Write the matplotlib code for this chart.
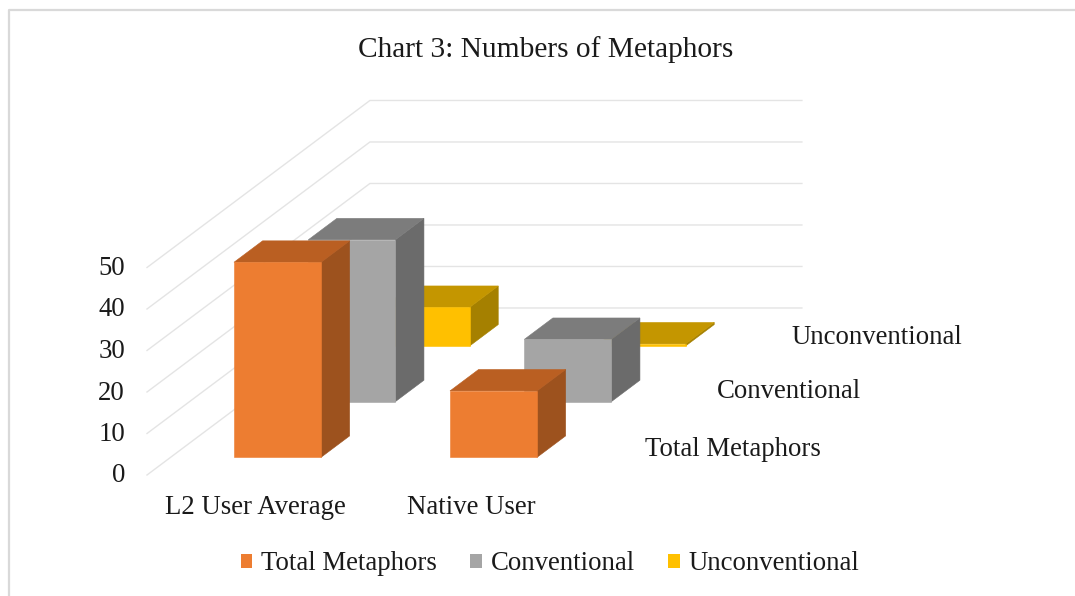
import matplotlib
matplotlib.use("Agg")
import matplotlib.pyplot as plt
from matplotlib.patches import Polygon, Patch

plt.rcParams["font.family"] = ["Liberation Serif", "DejaVu Serif"]

# data
categories = ["L2 User Average", "Native User"]
series_names = ["Total Metaphors", "Conventional", "Unconventional"]
total_metaphors = [47, 16]
conventional = [39, 15]
unconventional = [9.3, 0.5]
series_values = [total_metaphors, conventional, unconventional]
value_ticks = [0, 10, 20, 30, 40, 50]

# colours per series: front, top, side
front_colors = ["#ED7D31", "#A5A5A5", "#FFC000"]
top_colors = ["#BA5F22", "#7C7C7C", "#C49600"]
side_colors = ["#9D521E", "#6B6B6B", "#A58000"]

TEXT_SIZE = 19.3


# oblique 3d -> pixel position, c = category axis, d = depth axis, v = value
def project(c, d, v):
    x = 147 + 216 * c + 74.3 * d
    y = 475 - 55.67 * d - 4.15 * v
    return x, y


def draw_bar(ax, c, d, value, i):
    w = 0.403 / 2
    t = 0.385 / 2
    c0, c1 = c - w, c + w
    d0, d1 = d - t, d + t
    front = [project(c0, d0, 0), project(c1, d0, 0), project(c1, d0, value), project(c0, d0, value)]
    side = [project(c1, d0, 0), project(c1, d1, 0), project(c1, d1, value), project(c1, d0, value)]
    top = [project(c0, d0, value), project(c1, d0, value), project(c1, d1, value), project(c0, d1, value)]
    for pts, col in [(side, side_colors[i]), (top, top_colors[i]), (front, front_colors[i])]:
        ax.add_patch(Polygon(pts, closed=True, facecolor=col, edgecolor=col, linewidth=0.4, zorder=3))


fig = plt.figure(figsize=(10.75, 5.96), dpi=100)
ax = fig.add_axes([0, 0, 1, 1])
ax.set_xlim(0, 1075)
ax.set_ylim(596, 0)
ax.axis("off")

# chart border, only top and left show up
ax.plot([9, 9, 1075], [596, 10, 10], color="#D9D9D9", linewidth=1.6, zorder=1)

# gridlines on side wall and back wall
for v in value_ticks:
    a = project(0, 0, v)
    b = project(0, 3, v)
    e = project(2, 3, v)
    ax.plot([a[0], b[0], e[0]], [a[1], b[1], e[1]], color="#E4E4E4", linewidth=1.0, zorder=2)

# back to front so the nearer bars cover the others
for i in range(len(series_names) - 1, -1, -1):
    for j in range(len(categories)):
        draw_bar(ax, j + 0.495, i + 0.51, series_values[i][j], i)

for v in value_ticks:
    x, y = project(0, 0, v)
    ax.text(x - 22, y + 1, str(v), ha="right", va="center", fontsize=TEXT_SIZE, color="#1A1A1A")

for j, name in enumerate(categories):
    ax.text(255 + 216 * j, 507, name, ha="center", va="center", fontsize=TEXT_SIZE, color="#1A1A1A")

series_label_x = [733, 789, 877]
series_label_y = [449, 392, 337]
for i, name in enumerate(series_names):
    ax.text(series_label_x[i], series_label_y[i], name, ha="center", va="center",
            fontsize=TEXT_SIZE, color="#1A1A1A")

ax.text(546, 50, "Chart 3: Numbers of Metaphors", ha="center", va="center",
        fontsize=21.2, color="#1A1A1A")

handles = [Patch(facecolor=col, edgecolor="none") for col in front_colors]
fig.legend(handles, series_names, loc="center", bbox_to_anchor=(550 / 1075, 1 - 564 / 596),
           ncol=3, frameon=False, fontsize=TEXT_SIZE, handlelength=0.42, handleheight=0.42,
           handletextpad=0.34, columnspacing=1.25, labelcolor="#1A1A1A")

fig.savefig("out.png", dpi=100)
